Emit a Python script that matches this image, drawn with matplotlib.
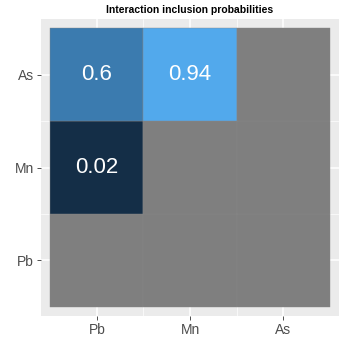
import numpy as np
import matplotlib
matplotlib.use('Agg')
import matplotlib.pyplot as plt
from matplotlib.colors import LinearSegmentedColormap

plt.rcParams['font.family'] = ['Liberation Sans', 'DejaVu Sans']

x_labels = ['Pb', 'Mn', 'As']
y_labels = ['Pb', 'Mn', 'As']  # bottom to top
# rows follow y_labels, columns follow x_labels, NaN = not estimated
probs = np.array([
    [np.nan, np.nan, np.nan],
    [0.02, np.nan, np.nan],
    [0.6, 0.94, np.nan],
])

cmap = LinearSegmentedColormap.from_list('gg', ['#132B43', '#56B1F7'])

fig = plt.figure(figsize=(3.46, 3.46), dpi=100)
ax = fig.add_axes([41/346, 30/346, 298/346, 297/346])
ax.set_facecolor('#EBEBEB')

# ggplot-like grid
for v in [1, 2, 3]:
    ax.axvline(v, color='white', lw=1.1, zorder=0)
    ax.axhline(v, color='white', lw=1.1, zorder=0)
for v in [1.5, 2.5]:
    ax.axvline(v, color='white', lw=0.5, zorder=0)
    ax.axhline(v, color='white', lw=0.5, zorder=0)

for i in range(len(y_labels)):
    for j in range(len(x_labels)):
        val = probs[i, j]
        col = '#7F7F7F' if np.isnan(val) else cmap(val)
        ax.add_patch(plt.Rectangle((j + 0.5, i + 0.5), 1, 1, facecolor=col,
                                   edgecolor='#878787', lw=0.3, zorder=1))
        if not np.isnan(val):
            ax.text(j + 1, i + 1, f'{val:g}', color='white', fontsize=16,
                    ha='center', va='center', zorder=2)

ax.set_xlim(0.4, 3.6)
ax.set_ylim(0.4, 3.6)
ax.set_xticks([1, 2, 3])
ax.set_xticklabels(x_labels)
ax.set_yticks([1, 2, 3])
ax.set_yticklabels(y_labels)
ax.tick_params(colors='#333333', labelcolor='#4D4D4D', labelsize=10,
               length=3, width=0.6, pad=2)
for s in ax.spines.values():
    s.set_visible(False)

ax.set_title('Interaction inclusion probabilities', fontsize=7.5,
             fontweight='bold', pad=4)

fig.savefig('out.png', dpi=100)
